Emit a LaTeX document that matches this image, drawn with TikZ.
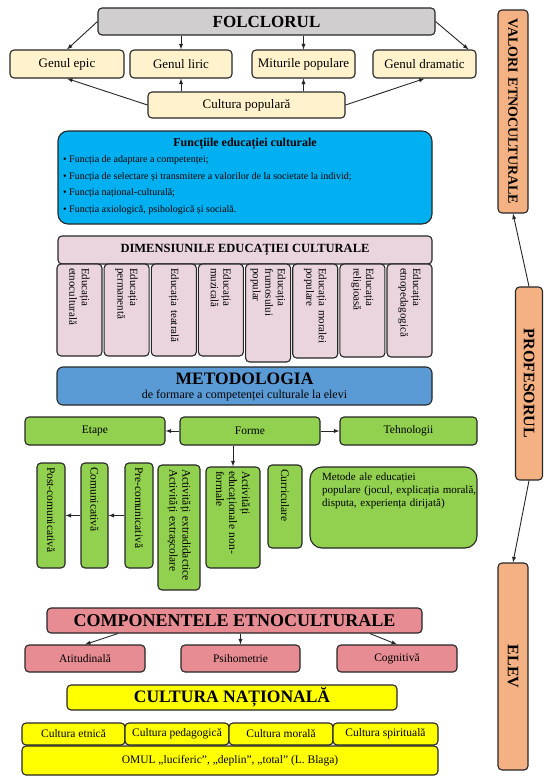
\documentclass[tikz,border=0pt]{standalone}
\usepackage{fontspec}
\setmainfont{Liberation Serif}
\usetikzlibrary{calc}

\definecolor{folcgray}{RGB}{208,206,206}
\definecolor{cream}{RGB}{255,242,204}
\definecolor{funcblue}{RGB}{0,176,240}
\definecolor{dimpink}{RGB}{234,213,223}
\definecolor{metblue}{RGB}{91,155,213}
\definecolor{green1}{RGB}{146,208,80}
\definecolor{rose}{RGB}{230,140,146}
\definecolor{yellow1}{RGB}{255,255,0}
\definecolor{orange1}{RGB}{244,177,131}

\begin{document}
\begin{tikzpicture}[x=1pt,y=-1pt,
    box/.style={draw=black!85,line width=1.1pt,rounded corners=4pt,inner sep=2pt,align=center},
    sz/.style 2 args={minimum width=#1,minimum height=#2},
    vbox/.style 2 args={box,rotate=-90,inner xsep=4pt,inner ysep=0pt,text width=#1,minimum height=#2,align=left},
    arr/.style={->,>=latex,line width=0.9pt,draw=black!85},
    txt/.style={font=\fontsize{13}{15}\selectfont},
    bul/.style={anchor=west,inner sep=0pt,font=\fontsize{10}{12}\selectfont},
    dimtxt/.style={font=\fontsize{11}{12.5}\selectfont},
    gtxt/.style={font=\fontsize{11.5}{13}\selectfont},
    sidetxt/.style={font=\bfseries\fontsize{16}{18}\selectfont,align=center}]

\useasboundingbox (0,0) rectangle (544,776);

% folclorul
\node[box,sz={337}{27},fill=folcgray,font=\bfseries\fontsize{17}{20}\selectfont] (folc) at (266.5,21.5) {FOLCLORUL};
\node[box,sz={114}{28},fill=cream,txt] (epic) at (67,64) {Genul epic};
\node[box,sz={102}{28},fill=cream,txt] (liric) at (181,64) {Genul liric};
\node[box,sz={103}{28},fill=cream,txt] (mit) at (303.5,64) {Miturile populare};
\node[box,sz={103}{28},fill=cream,txt] (dram) at (424.5,64) {Genul dramatic};
\node[box,sz={197}{26},fill=cream,txt] (cpop) at (246.5,105) {Cultura populară};

\draw[arr] (folc.west) -- (epic.north);
\draw[arr] (liric.north |- folc.south) -- (liric.north);
\draw[arr] (mit.north |- folc.south) -- (mit.north);
\draw[arr] (folc.east) -- ([xshift=-8]dram.north east);
\draw[arr] (cpop.west) -- (epic.south);
\draw[arr] (liric.south |- cpop.north) -- (liric.south);
\draw[arr] (mit.south |- cpop.north) -- (mit.south);
\draw[arr] (cpop.east) -- (dram.south);

% functiile
\node[box,sz={374}{93},fill=funcblue,rounded corners=10pt] (func) at (245,177.5) {};
\node[font=\bfseries\fontsize{12}{14}\selectfont] (functitle) at (245,144) {Funcțiile educației culturale};
\node[bul] (b1) at (63,160) {\textbullet\ Funcția de adaptare a competenței;};
\node[bul] (b2) at (63,177) {\textbullet\ Funcția de selectare și transmitere a valorilor de la societate la individ;};
\node[bul] (b3) at (63,193.5) {\textbullet\ Funcția național-culturală;};
\node[bul] (b4) at (63,210.5) {\textbullet\ Funcția axiologică, psihologică și socială.};

% dimensiunile
\node[box,sz={374}{28},fill=dimpink,font=\bfseries\fontsize{12.5}{15}\selectfont] (dim) at (245,250) {DIMENSIUNILE EDUCAȚIEI CULTURALE};
\node[vbox={84}{45},fill=dimpink,dimtxt] (d1) at (79.5,310) {Educația\\etnoculturală};
\node[vbox={84}{45},fill=dimpink,dimtxt] (d2) at (126.6,310) {Educația\\permanentă};
\node[vbox={84}{45},fill=dimpink,dimtxt] (d3) at (173.8,310) {Educația teatrală};
\node[vbox={84}{45},fill=dimpink,dimtxt] (d4) at (220.9,310) {Educația\\muzicală};
\node[vbox={90}{45},fill=dimpink,dimtxt] (d5) at (268.1,313) {Educația\\frumosului\\popular};
\node[vbox={86}{45},fill=dimpink,dimtxt] (d6) at (315.2,311) {Educația moralei\\populare};
\node[vbox={85}{45},fill=dimpink,dimtxt] (d7) at (362.4,310.5) {Educația\\religioasă};
\node[vbox={85}{45},fill=dimpink,dimtxt] (d8) at (409.5,310.5) {Educația\\etnopedagogică};

% metodologia
\node[box,sz={375}{38},fill=metblue,rounded corners=6pt] (met) at (244.5,386) {};
\node[font=\bfseries\fontsize{17.5}{20}\selectfont] (mettitle) at (244.5,379) {METODOLOGIA};
\node[font=\fontsize{12}{14}\selectfont] (metsub) at (244.5,396) {de formare a competenței culturale la elevi};

\node[box,sz={140}{28},fill=green1,gtxt] (etape) at (95,431) {Etape};
\node[box,sz={140}{28},fill=green1,gtxt] (forme) at (250,431) {Forme};
\node[box,sz={137}{28},fill=green1,gtxt] (tehno) at (408.5,431) {Tehnologii};
\draw[arr] (forme.west) -- (etape.east);
\draw[arr] (forme.east) -- (tehno.west);

\node[vbox={97}{28},fill=green1,gtxt] (post) at (51,515.5) {Post-comunicativă};
\node[vbox={97}{27},fill=green1,gtxt] (com) at (94.5,515.5) {Comunicativă};
\node[vbox={97}{28},fill=green1,gtxt] (pre) at (139,515.5) {Pre-comunicativă};
\node[vbox={117}{42},fill=green1,gtxt] (extra) at (179,527.5) {Activități extradidactice\\Activități extrașcolare};
\node[vbox={93}{54},fill=green1,gtxt] (nonf) at (233,517.5) {Activități\\educaționale non-\\formale};
\node[vbox={75}{34},fill=green1,gtxt] (curr) at (285,506.5) {Curriculare};
\node[box,sz={167}{81},fill=green1,rounded corners=12pt] (metode) at (393.5,507.5) {};
\node[anchor=north west,inner sep=0pt,text width=165,align=left,font=\fontsize{11}{13}\selectfont] (metodetxt) at (322,473) {Metode ale educației\\populare (jocul, explicația morală,\\disputa, experiența dirijată)};

\draw[arr] (nonf.west |- forme.south) -- (nonf.west);
\draw[arr] (pre.south) -- (com.north);
\draw[arr] (com.south) -- (post.north);

% componentele
\node[box,sz={375}{25},fill=rose,font=\bfseries\fontsize{18}{20}\selectfont] (comp) at (234.5,620.5) {COMPONENTELE ETNOCULTURALE};
\node[box,sz={120}{27},fill=rose,gtxt] (atit) at (85,658.5) {Atitudinală};
\node[box,sz={119}{27},fill=rose,gtxt] (psih) at (240.5,658.5) {Psihometrie};
\node[box,sz={120}{27},fill=rose,gtxt] (cogn) at (397,658.5) {Cognitivă};
\draw[arr] ($(comp.south west)!0.19!(comp.south east)$) -- (atit.north);
\draw[arr] (psih.north |- comp.south) -- (psih.north);
\draw[arr] ($(comp.south west)!0.86!(comp.south east)$) -- (cogn.north);

% cultura nationala
\node[box,sz={330}{25},fill=yellow1,font=\bfseries\fontsize{17.5}{20}\selectfont] (cnat) at (232,697.5) {CULTURA NAȚIONALĂ};
\node[box,sz={103}{22},fill=yellow1,gtxt] (cet) at (73.5,734) {Cultura etnică};
\node[box,sz={104}{22},fill=yellow1,gtxt] (cped) at (177,734) {Cultura pedagogică};
\node[box,sz={104}{22},fill=yellow1,gtxt] (cmor) at (281,734) {Cultura morală};
\node[box,sz={105}{22},fill=yellow1,gtxt] (cspi) at (385.5,734) {Cultura spirituală};
\node[box,sz={416}{29},fill=yellow1,gtxt] (omul) at (230,760.5) {OMUL „luciferic”, „deplin”, „total” (L. Blaga)};

% coloana din dreapta
\node[vbox={195}{30},fill=orange1,sidetxt,font=\bfseries\fontsize{14}{16}\selectfont] (valori) at (513,111.5) {VALORI ETNOCULTURALE};
\node[vbox={185}{27},fill=orange1,sidetxt] (prof) at (529,383.5) {PROFESORUL};
\node[vbox={199}{30},fill=orange1,sidetxt] (elev) at (513,666.5) {ELEV};
\draw[arr] (prof.west) -- (valori.east);
\draw[arr] (prof.east) -- (elev.west);

\end{tikzpicture}
\end{document}
